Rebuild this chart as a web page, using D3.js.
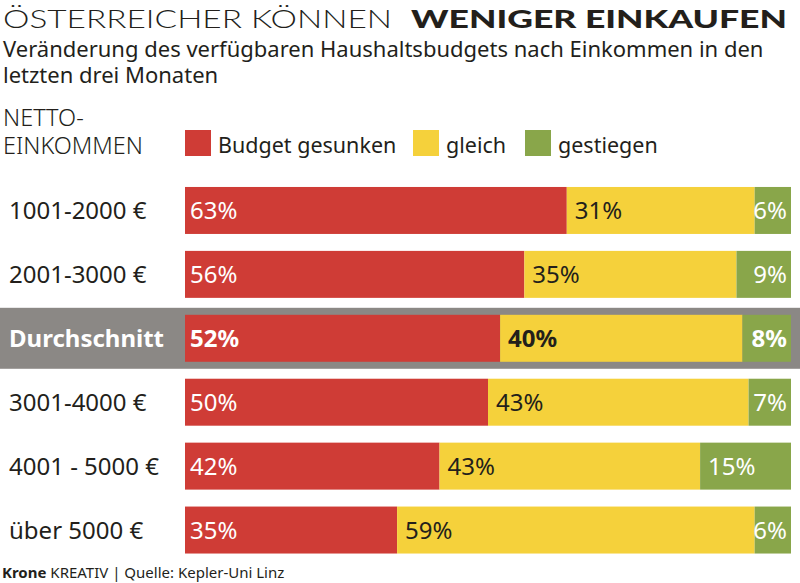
<!DOCTYPE html>
<html><head><meta charset="utf-8">
<script src="https://cdn.jsdelivr.net/npm/d3@7"></script>
<style>body{margin:0;background:#fff}svg{display:block}</style>
</head><body>
<script>
const categories = ["1001-2000 €","2001-3000 €","Durchschnitt","3001-4000 €","4001 - 5000 €","über 5000 €"];
const gesunken = [63,56,52,50,42,35];
const gleich   = [31,35,40,43,43,59];
const gestiegen= [6,9,8,7,15,6];
const seriesNames = ["Budget gesunken","gleich","gestiegen"];
const highlight = "Durchschnitt";

const W=800,H=583;
const colors=["#cf3c36","#f5d13b","#89a64a"];
const textCol="#231f1b";
const font="'Noto Sans', 'Open Sans', sans-serif";

const svg=d3.select("body").append("svg").attr("width",W).attr("height",H);

// Title
svg.append("text").attr("x",3).attr("y",28).attr("font-family","Lato, 'Noto Sans', sans-serif")
  .attr("font-size",25).attr("font-weight",300).attr("fill",textCol)
  .attr("textLength",389).attr("lengthAdjust","spacingAndGlyphs").text("ÖSTERREICHER KÖNNEN");
svg.append("text").attr("x",411).attr("y",28).attr("font-family","Lato, 'Noto Sans', sans-serif")
  .attr("font-size",25).attr("font-weight",900).attr("fill",textCol)
  .attr("textLength",376).attr("lengthAdjust","spacingAndGlyphs").text("WENIGER EINKAUFEN");

svg.append("text").attr("x",3).attr("y",57).attr("font-family",font).attr("font-size",22).attr("fill",textCol)
  .text("Veränderung des verfügbaren Haushaltsbudgets nach Einkommen in den");
svg.append("text").attr("x",3).attr("y",83).attr("font-family",font).attr("font-size",22).attr("fill",textCol)
  .text("letzten drei Monaten");

svg.append("text").attr("x",3).attr("y",126).attr("font-family",font).attr("font-weight",300).attr("font-size",23.5).attr("fill",textCol).text("NETTO-");
svg.append("text").attr("x",3).attr("y",154).attr("font-family",font).attr("font-weight",300).attr("font-size",23.5).attr("fill",textCol).text("EINKOMMEN");

// Legend
const legX=[185,413,525];
seriesNames.forEach((n,i)=>{
  svg.append("rect").attr("x",legX[i]).attr("y",130).attr("width",26).attr("height",26).attr("fill",colors[i]);
  svg.append("text").attr("x",legX[i]+33).attr("y",153).attr("font-family",font).attr("font-size",21.5).attr("fill",textCol).text(n);
});

const x=d3.scaleLinear().domain([0,100]).range([185,791]);
const y=d3.scaleBand().domain(categories).range([178.5,562]).paddingInner(0.265).paddingOuter(0.1325);

// highlight band
svg.append("rect").attr("x",0).attr("width",W)
  .attr("y",y(highlight)-7).attr("height",y.bandwidth()+14).attr("fill","#8b8885");

const rows=categories.map((c,i)=>({c,vals:[gesunken[i],gleich[i],gestiegen[i]]}));
const stack=d3.stack().keys([0,1,2]).value((d,k)=>d.vals[k]);
const layers=stack(rows);

layers.forEach((layer,k)=>{
  svg.append("g").selectAll("rect").data(layer).join("rect")
    .attr("x",d=>x(d[0])).attr("width",d=>x(d[1])-x(d[0]))
    .attr("y",d=>y(d.data.c)).attr("height",y.bandwidth()).attr("fill",colors[k]);
  svg.append("g").selectAll("text").data(layer).join("text")
    .attr("font-family",font).attr("font-size",24)
    .attr("font-weight",d=>d.data.c===highlight?700:400)
    .attr("fill",k===1?textCol:"#fff")
    .attr("y",d=>y(d.data.c)+y.bandwidth()/2+9)
    .attr("x",d=>{const w=x(d[1])-x(d[0]); return w>60? x(d[0])+(k===0?5:8) : x(d[1])-4;})
    .attr("text-anchor",d=>(x(d[1])-x(d[0]))>60?"start":"end")
    .text(d=>(d[1]-d[0])+"%");
});

// Row labels
svg.append("g").selectAll("text").data(categories).join("text")
  .attr("x",9).attr("y",c=>y(c)+y.bandwidth()/2+9)
  .attr("font-family",font).attr("font-size",24)
  .attr("font-weight",c=>c===highlight?700:400)
  .attr("fill",c=>c===highlight?"#fff":textCol)
  .text(c=>c);

// Footer
const f=svg.append("text").attr("x",2).attr("y",578).attr("font-family",font).attr("font-size",15).attr("fill",textCol);
f.append("tspan").attr("font-weight",700).text("Krone ");
f.append("tspan").text("KREATIV | Quelle: Kepler-Uni Linz");
</script>
</body></html>
